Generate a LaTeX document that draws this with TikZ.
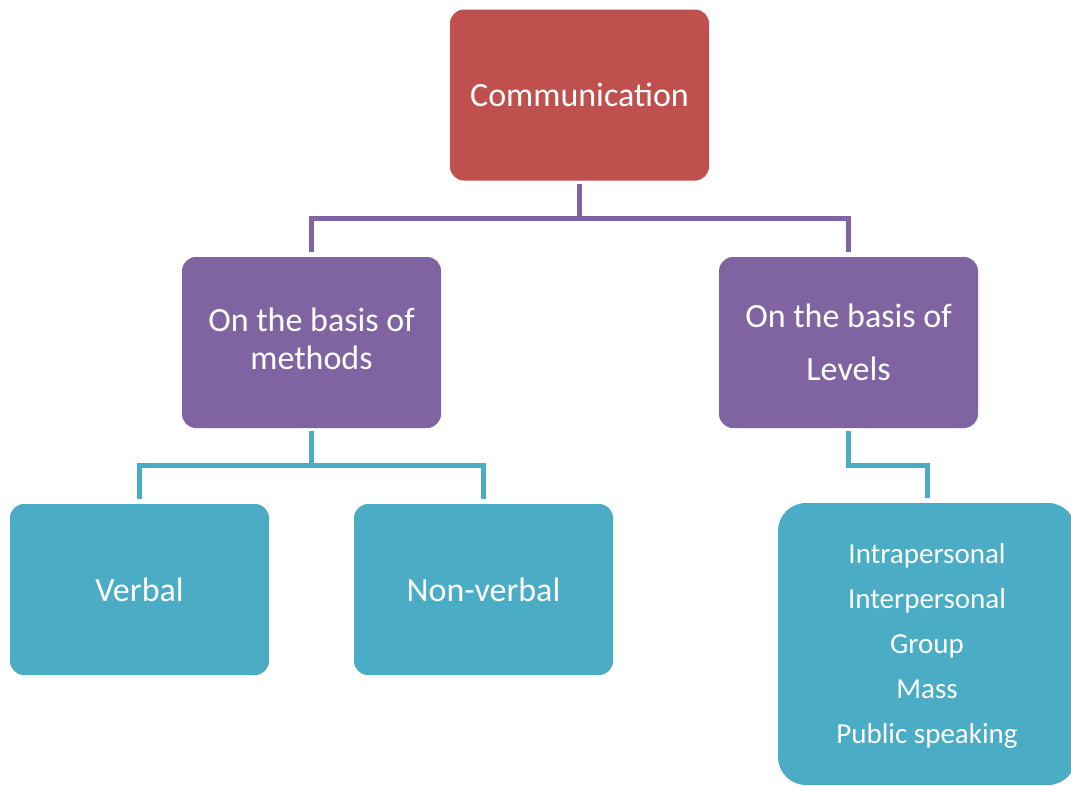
\documentclass[tikz,border=0pt]{standalone}
\usepackage{fontspec}
\setmainfont{Carlito}
\definecolor{cred}{HTML}{C0504D}
\definecolor{cpurple}{HTML}{8064A2}
\definecolor{cteal}{HTML}{4BACC6}
\begin{document}
\begin{tikzpicture}[x=1pt,y=-1pt,
  box/.style={rounded corners=14pt, inner sep=0pt, minimum width=259pt, minimum height=171pt,
    text=white, align=center, font=\fontsize{34}{38}\selectfont},
  conn/.style={line width=5pt, shorten <=3pt, shorten >=5pt}]
\useasboundingbox (0,0) rectangle (1071,785);
\clip (0,0) rectangle (1071,785);
\node[box, fill=cred] (comm) at (579.5,95) {Communication};
\node[box, fill=cpurple] (meth) at (311.5,342.5) {\raisebox{2pt}{\begin{tabular}{@{}c@{}}On the basis of\\methods\end{tabular}}};
\node[box, fill=cpurple, font=\fontsize{34}{53}\selectfont] (lev) at (848.5,342.5) {On the basis of\\Levels};
\node[box, fill=cteal] (verb) at (139.5,589.5) {Verbal};
\node[box, fill=cteal] (nonv) at (483.5,589.5) {Non-verbal};
\node[box, fill=cteal, rounded corners=28pt, minimum width=298pt, minimum height=282pt,
  font=\fontsize{29}{45}\selectfont] (list) at (927,644)
  {\raisebox{-4pt}{\begin{tabular}{@{}c@{}}Intrapersonal\\Interpersonal\\Group\\Mass\\Public speaking\end{tabular}}};
\draw[conn, cpurple] (comm.south) -- ++(0,38) -| (meth.north);
\draw[conn, cpurple] (comm.south) -- ++(0,38) -| (lev.north);
\draw[conn, cteal] (meth.south) -- ++(0,37) -| (verb.north);
\draw[conn, cteal] (meth.south) -- ++(0,37) -| (nonv.north);
\draw[conn, cteal] (lev.south) -- ++(0,37) -| (list.north);
\end{tikzpicture}
\end{document}
